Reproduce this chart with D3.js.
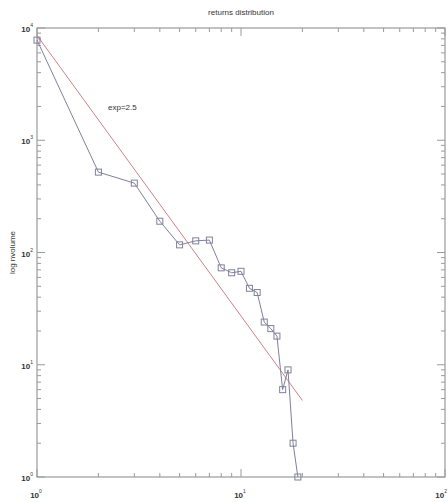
<!DOCTYPE html>
<html>
<head>
<meta charset="utf-8">
<script src="https://cdn.jsdelivr.net/npm/d3@7"></script>
<style>
  body { margin: 0; background: #fff; }
  text { font-family: "Liberation Sans", Arial, sans-serif; fill: #333; }
</style>
</head>
<body>
<div id="chart"></div>
<script>
// returns (x) and their counts (y)
const returnsX = [1, 2, 3, 4, 5, 6, 7, 8, 9, 10, 11, 12, 13, 14, 15, 16, 17, 18, 19];
const volumes  = [7800, 520, 415, 190, 117, 127, 129, 73, 66, 68, 48, 44, 24, 21, 18, 6, 9, 2, 1];

// power-law fit, exponent 2.5
const fitExp = 2.5;
const fitAmp = 8600;
const fitRange = [1, 20];

const xTickLabels = [1, 10, 100];
const yTickLabels = [1, 10, 100, 1000, 10000];

const W = 448, H = 502;
const margin = {top: 28, right: 3, bottom: 25, left: 37};

const svg = d3.select("#chart").append("svg")
    .attr("width", W)
    .attr("height", H);

const x = d3.scaleLog().domain([1, 100]).range([margin.left, W - margin.right]);
const y = d3.scaleLog().domain([1, 10000]).range([H - margin.bottom, margin.top]);

const axisCol = "#9a9a9a";

// frame
svg.append("rect")
    .attr("x", x(1)).attr("y", y(10000))
    .attr("width", x(100) - x(1)).attr("height", y(1) - y(10000))
    .attr("fill", "none").attr("stroke", axisCol).attr("stroke-width", 1.2);

// log ticks (inside, on all four sides)
function logTicks(lo, hi) {
    let out = [];
    for (let d = lo; d < hi; d *= 10) {
        for (let k = 1; k < 10; k++) out.push({v: d * k, major: k === 1});
    }
    out.push({v: hi, major: true});
    return out;
}

const xt = logTicks(1, 100), yt = logTicks(1, 10000);
const tg = svg.append("g").attr("stroke", axisCol).attr("stroke-width", 1);

xt.forEach(function(t) {
    const len = t.major ? 8 : 4;
    tg.append("line").attr("x1", x(t.v)).attr("x2", x(t.v)).attr("y1", y(1)).attr("y2", y(1) - len);
    tg.append("line").attr("x1", x(t.v)).attr("x2", x(t.v)).attr("y1", y(10000)).attr("y2", y(10000) + len);
});
yt.forEach(function(t) {
    const len = t.major ? 8 : 4;
    tg.append("line").attr("y1", y(t.v)).attr("y2", y(t.v)).attr("x1", x(1)).attr("x2", x(1) + len);
    tg.append("line").attr("y1", y(t.v)).attr("y2", y(t.v)).attr("x1", x(100)).attr("x2", x(100) - len);
});

// tick labels as 10 with superscript exponent
function powLabel(sel, px, py, exp, anchor) {
    const t = sel.append("text")
        .attr("x", px).attr("y", py)
        .attr("text-anchor", anchor)
        .attr("font-size", 8).attr("font-weight", "bold");
    t.append("tspan").text("10");
    t.append("tspan").attr("dy", -5).attr("font-size", 5).attr("font-weight", "normal").text(exp);
}

xTickLabels.forEach(function(v, i) {
    const last = i === xTickLabels.length - 1;
    powLabel(svg, last ? W - 1 : x(v) - 1, H - 4, Math.round(Math.log10(v)), last ? "end" : "middle");
});
yTickLabels.forEach(function(v) {
    powLabel(svg, x(1) - 4, y(v) + 4, Math.round(Math.log10(v)), "end");
});

// title and axis label
svg.append("text")
    .attr("x", (x(1) + x(100)) / 2).attr("y", 15)
    .attr("text-anchor", "middle").attr("font-size", 8)
    .text("returns distribution");

svg.append("text")
    .attr("transform", "translate(15," + (y(1) + y(10000)) / 2 + ") rotate(-90)")
    .attr("text-anchor", "middle").attr("font-size", 8)
    .text("log nvolume");

svg.append("text")
    .attr("x", 108).attr("y", 110)
    .attr("font-size", 8)
    .text("exp=2.5");

// fit line
svg.append("line")
    .attr("x1", x(fitRange[0])).attr("y1", y(fitAmp * Math.pow(fitRange[0], -fitExp)))
    .attr("x2", x(fitRange[1])).attr("y2", y(fitAmp * Math.pow(fitRange[1], -fitExp)))
    .attr("stroke", "#d0808a").attr("stroke-width", 1);

// data line + square markers
const pts = returnsX.map((v, i) => [v, volumes[i]]);
const lineCol = "#80809a";

svg.append("path")
    .datum(pts)
    .attr("fill", "none")
    .attr("stroke", lineCol)
    .attr("stroke-width", 1)
    .attr("d", d3.line().x(d => x(d[0])).y(d => y(d[1])));

svg.selectAll(".mk")
    .data(pts)
    .join("rect")
    .attr("class", "mk")
    .attr("x", d => x(d[0]) - 3).attr("y", d => y(d[1]) - 3)
    .attr("width", 6).attr("height", 6)
    .attr("fill", "none")
    .attr("stroke", lineCol)
    .attr("stroke-width", 1);
</script>
</body>
</html>
